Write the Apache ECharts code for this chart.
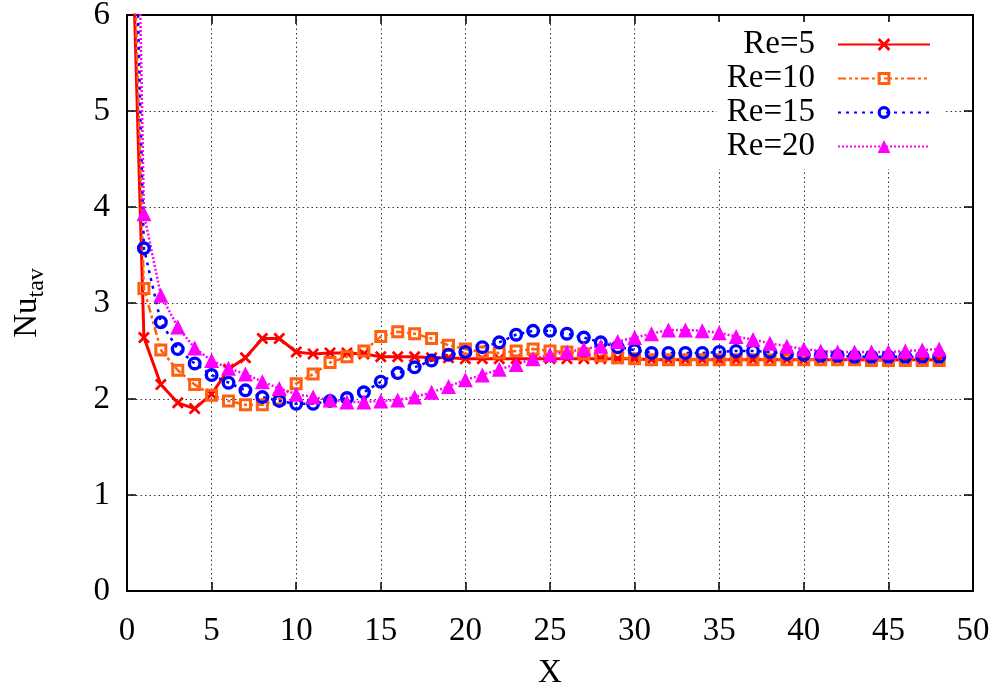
<!DOCTYPE html>
<html><head><meta charset="utf-8">
<script src="https://cdn.jsdelivr.net/npm/echarts@6/dist/echarts.min.js"></script>
<style>html,body{margin:0;padding:0;background:#fff}#c{width:997px;height:693px}</style>
</head><body><div id="c"></div>
<script>
const xValues = [0,1,2,3,4,5,6,7,8,9,10,11,12,13,14,15,16,17,18,19,20,21,22,23,24,25,26,27,28,29,30,31,32,33,34,35,36,37,38,39,40,41,42,43,44,45,46,47,48];
const re5  = [8.75,2.64,2.15,1.96,1.90,2.05,2.31,2.43,2.63,2.63,2.49,2.47,2.48,2.48,2.47,2.44,2.44,2.44,2.43,2.43,2.42,2.42,2.42,2.42,2.42,2.42,2.42,2.42,2.42,2.42,2.42,2.41,2.41,2.41,2.41,2.41,2.41,2.41,2.41,2.41,2.41,2.41,2.41,2.41,2.41,2.41,2.41,2.41,2.41];
const re10 = [9.2,3.15,2.51,2.30,2.15,2.04,1.98,1.94,1.94,2.00,2.16,2.26,2.38,2.44,2.50,2.65,2.70,2.68,2.63,2.56,2.52,2.49,2.48,2.50,2.52,2.50,2.49,2.47,2.45,2.43,2.42,2.41,2.41,2.41,2.41,2.41,2.41,2.41,2.41,2.41,2.41,2.41,2.41,2.41,2.40,2.40,2.40,2.40,2.40];
const re15 = [10.5,3.57,2.80,2.52,2.37,2.25,2.17,2.09,2.02,1.98,1.95,1.95,1.98,2.01,2.07,2.18,2.27,2.33,2.40,2.46,2.49,2.54,2.59,2.67,2.71,2.71,2.68,2.64,2.59,2.54,2.51,2.48,2.48,2.48,2.48,2.49,2.50,2.50,2.49,2.47,2.46,2.45,2.45,2.44,2.44,2.44,2.44,2.44,2.44];
const re20 = [13.8,3.93,3.08,2.75,2.53,2.40,2.32,2.26,2.18,2.11,2.05,2.02,1.99,1.97,1.97,1.98,1.99,2.02,2.07,2.13,2.20,2.25,2.31,2.36,2.42,2.46,2.49,2.52,2.55,2.60,2.64,2.68,2.72,2.72,2.71,2.69,2.65,2.62,2.58,2.55,2.52,2.50,2.49,2.49,2.49,2.49,2.50,2.51,2.52];
const seriesNames = ['Re=5','Re=10','Re=15','Re=20'];
const xTicks = [0,5,10,15,20,25,30,35,40,45,50];
const yTicks = [0,1,2,3,4,5,6];

const FONT = 'Liberation Serif';
const SYM_X = 'path://M0,1.6L1.6,0L5,3.4L8.4,0L10,1.6L6.6,5L10,8.4L8.4,10L5,6.6L1.6,10L0,8.4L3.4,5Z';
const SYM_SQ = 'path://M0,0H10V10H0Z M2.3,2.3V7.7H7.7V2.3Z';
const SYM_CI = 'path://M0,5A5,5 0 1,1 10,5A5,5 0 1,1 0,5Z M2.4,5A2.6,2.6 0 1,0 7.6,5A2.6,2.6 0 1,0 2.4,5Z';

function pairs(vals){ return xValues.map((x,i)=>[x, vals[i]]); }

const chart = echarts.init(document.getElementById('c'), null, {renderer:'canvas'});
const labelStyle = {fontFamily: FONT, fontSize: 33, color:'#000'};
const axisLineStyle = {show:true, onZero:false, lineStyle:{color:'#000', width:2}};
const tickStyle = {show:true, inside:true, length:9, lineStyle:{color:'#000', width:1.5}};
const gridLine = {show:true, lineStyle:{color:'#333', type:[1.5,3], width:1}};

chart.setOption({
  animation:false,
  backgroundColor:'#fff',
  grid:{left:127, right:24, top:15, bottom:102, containLabel:false, outerBoundsMode:'none'},
  legend:{
    orient:'vertical', right:54, top:22, align:'right',
    itemWidth:92, itemHeight:16, itemGap:1,
    padding:[6,12,6,10], backgroundColor:'#fff',
    textStyle:{fontFamily: FONT, fontSize:33, color:'#000', lineHeight:30, padding:[0,18,0,0]},
    data: seriesNames
  },
  xAxis:[
    {type:'value', min:0, max:50, interval:5, position:'bottom',
     axisLine:axisLineStyle, axisTick:tickStyle,
     axisLabel:Object.assign({margin:24, formatter:(v)=>xTicks.includes(v)?String(v):''}, labelStyle),
     splitLine:gridLine,
     name:'X', nameLocation:'middle', nameGap:66, nameTextStyle:{fontFamily:FONT, fontSize:33, color:'#000'}},
    {type:'value', min:0, max:50, interval:5, position:'top',
     axisLine:axisLineStyle, axisTick:tickStyle, axisLabel:{show:false}, splitLine:{show:false}}
  ],
  yAxis:[
    {type:'value', min:0, max:6, interval:1, position:'left',
     axisLine:axisLineStyle, axisTick:tickStyle,
     axisLabel:Object.assign({margin:17, formatter:(v)=>yTicks.includes(v)?String(v):''}, labelStyle),
     splitLine:gridLine,
     name:'{a|Nu}{b|tav}', nameLocation:'middle', nameGap:78, nameRotate:90,
     nameTextStyle:{rich:{
       a:{fontFamily:FONT, fontSize:33, color:'#000', lineHeight:44, verticalAlign:'middle'},
       b:{fontFamily:FONT, fontSize:24, color:'#000', lineHeight:24, verticalAlign:'bottom'}
     }}},
    {type:'value', min:0, max:6, interval:1, position:'right',
     axisLine:axisLineStyle, axisTick:tickStyle, axisLabel:{show:false}, splitLine:{show:false}}
  ],
  series:[
    {name:seriesNames[0], type:'line', data:pairs(re5), symbol:SYM_X, symbolSize:12,
     itemStyle:{color:'#ff0000'}, lineStyle:{color:'#ff0000', width:3, type:'solid'}},
    {name:seriesNames[1], type:'line', data:pairs(re10), symbol:SYM_SQ, symbolSize:13,
     itemStyle:{color:'#ff5f0f'}, lineStyle:{color:'#ff5f0f', width:2.5, type:[8,3,3,3,3,3]}},
    {name:seriesNames[2], type:'line', data:pairs(re15), symbol:SYM_CI, symbolSize:14,
     itemStyle:{color:'#0000ff'}, lineStyle:{color:'#0000ff', width:2.5, type:[3,5]}},
    {name:seriesNames[3], type:'line', data:pairs(re20), symbol:'triangle', symbolSize:15,
     itemStyle:{color:'#ff00ff'}, lineStyle:{color:'#ff00ff', width:2.5, type:[2,2]}}
  ]
});
</script></body></html>
